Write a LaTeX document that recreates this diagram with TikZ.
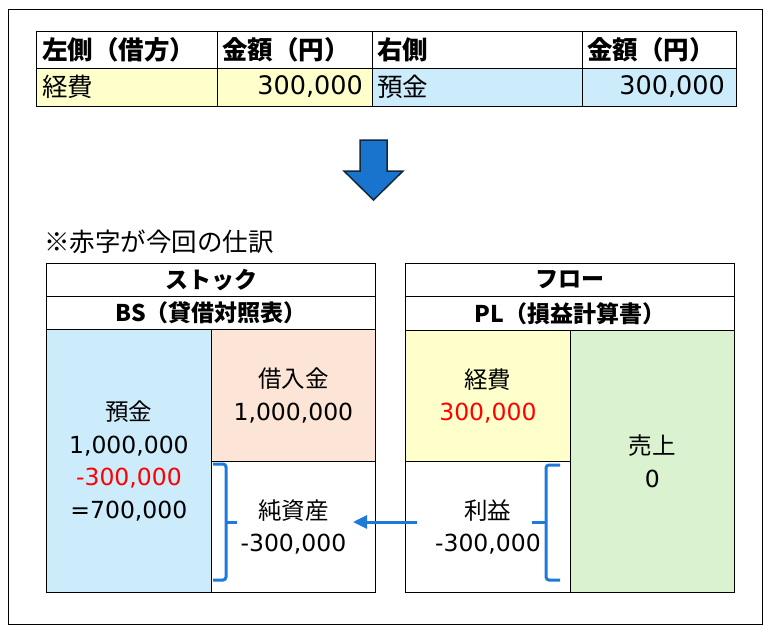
\documentclass[tikz,border=0pt]{standalone}
\usepackage{fontspec}
\setmainfont{DejaVu Sans}
\newfontfamily\jp{Noto Sans CJK JP}
\usetikzlibrary{arrows.meta}
\definecolor{yel}{HTML}{FFFFCC}
\definecolor{blu}{HTML}{CCECFB}
\definecolor{pea}{HTML}{FCE4D6}
\definecolor{grn}{HTML}{DAF2D0}
\definecolor{abl}{HTML}{1874CD}
\definecolor{adk}{HTML}{10293D}
\definecolor{brk}{HTML}{1E7AD8}
\begin{document}
\begin{tikzpicture}[x=1pt,y=-1pt,
  cell/.style={draw=black, line width=0.8pt, inner sep=0pt, anchor=north west, align=center},
  hcell/.style={cell, line width=1.2pt, font=\jp\bfseries\fontsize{23}{26}\selectfont},
  body/.style={font=\fontsize{23.5}{32.5}\selectfont},
  thead/.style={inner sep=0pt, anchor=west, font=\jp\bfseries\fontsize{25.5}{28}\selectfont},
  tjp/.style={inner sep=0pt, anchor=west, font=\jp\fontsize{25.5}{28}\selectfont},
  tnum/.style={inner sep=0pt, anchor=east, font=\fontsize{25.5}{28}\selectfont},
  bracket/.style={draw=brk, line width=3pt, rounded corners=3pt},
  flow/.style={draw=brk, line width=3pt, -{Triangle[length=14pt,width=13pt]}}]
\useasboundingbox (0,0) rectangle (770,638);
\draw[line width=0.8pt] (8,9) rectangle (762,624);

% top table
\node[cell, minimum width=181pt, minimum height=37pt] (t11) at (36,31) {};
\node[cell, minimum width=155pt, minimum height=37pt] (t12) at (217,31) {};
\node[cell, minimum width=210pt, minimum height=37pt] (t13) at (372,31) {};
\node[cell, minimum width=154pt, minimum height=37pt] (t14) at (582,31) {};
\node[cell, fill=yel, minimum width=181pt, minimum height=38pt] (t21) at (36,68) {};
\node[cell, fill=yel, minimum width=155pt, minimum height=38pt] (t22) at (217,68) {};
\node[cell, fill=blu, minimum width=210pt, minimum height=38pt] (t23) at (372,68) {};
\node[cell, fill=blu, minimum width=154pt, minimum height=38pt] (t24) at (582,68) {};
\node[thead] (h1) at (42,49.5) {左側（借方）};
\node[thead] (h2) at (222,49.5) {金額（円）};
\node[thead] (h3) at (377,49.5) {右側};
\node[thead] (h4) at (587,49.5) {金額（円）};
\node[tjp] (v1) at (42,87) {経費};
\node[tnum] (v2) at (363,87) {300,000};
\node[tjp] (v3) at (377,87) {預金};
\node[tnum] (v4) at (725,87) {300,000};

% down arrow
\draw[fill=abl, draw=adk, line width=1.5pt] (360,140) -- (387,140) -- (387,171) -- (403,171) -- (373.5,200) -- (344,171) -- (360,171) -- cycle;

\node[inner sep=0pt, anchor=west, font=\jp\fontsize{25.5}{30}\selectfont] (note) at (44,242) {※赤字が今回の仕訳};

% BS
\node[hcell, minimum width=329pt, minimum height=33pt] (bs1) at (46,263) {ストック};
\node[hcell, minimum width=329pt, minimum height=33pt] (bs2) at (46,296) {BS（貸借対照表）};
\node[cell, body, fill=blu, minimum width=165pt, minimum height=263pt] (yokin) at (46,329)
  {{\jp 預金}\\1,000,000\\\textcolor{red}{-300,000}\\=700,000};
\node[cell, body, fill=pea, minimum width=164pt, minimum height=132pt] (kari) at (211,329)
  {{\jp 借入金}\\1,000,000};
\node[cell, body, minimum width=164pt, minimum height=131pt] (jun) at (211,461)
  {{\jp 純資産}\\-300,000};

% PL
\node[hcell, minimum width=329pt, minimum height=33pt] (pl1) at (405,263) {フロー};
\node[hcell, minimum width=329pt, minimum height=34pt] (pl2) at (405,296) {PL（損益計算書）};
\node[cell, body, fill=yel, minimum width=165pt, minimum height=131pt] (keihi) at (405,330)
  {{\jp 経費}\\\textcolor{red}{300,000}};
\node[cell, body, minimum width=165pt, minimum height=131pt] (rieki) at (405,461)
  {{\jp 利益}\\-300,000};
\node[cell, body, fill=grn, minimum width=164pt, minimum height=262pt] (uri) at (570,330)
  {{\jp 売上}\\0};

% brackets
\draw[bracket] (213,464) -- (226,464) -- (226,580) -- (213,580);
\draw[bracket] (226,522) -- (237,522);
\draw[bracket] (560,465) -- (546,465) -- (546,580) -- (560,580);
\draw[bracket] (546,522) -- (532,522);

% flow arrow
\coordinate (aS) at (417,522);
\coordinate (aE) at (353,522);
\draw[flow] (aS) -- (aE);
\end{tikzpicture}
\end{document}
